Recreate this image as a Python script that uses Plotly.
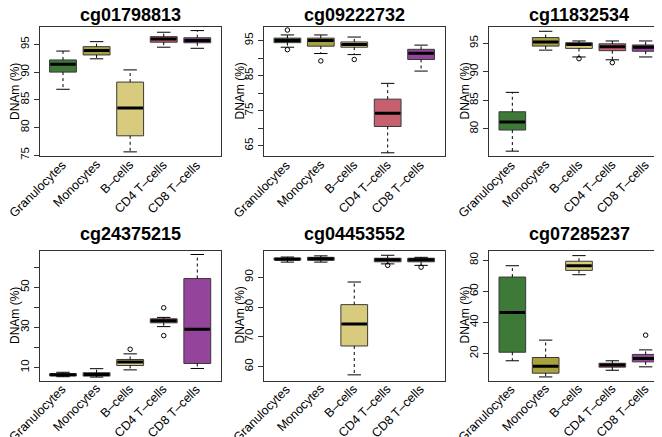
import plotly.graph_objects as go

# ---------------- data ----------------
cell_types = ["Granulocytes", "Monocytes", "B\u2013cells", "CD4 T\u2013cells", "CD8 T\u2013cells"]
box_colors = ["#3D7A37", "#A7A23C", "#D9CB7D", "#C5606F", "#95449B"]

probes = ["cg01798813", "cg09222732", "cg11832534", "cg24375215", "cg04453552", "cg07285237"]

# per probe: lower whisker, Q1, median, Q3, upper whisker (DNAm %), in cell_types order
cg01798813_lower = [86.9, 92.4, 75.6, 94.5, 94.3]
cg01798813_q1 = [90.0, 93.1, 78.5, 95.4, 95.3]
cg01798813_med = [91.4, 93.9, 83.5, 96.0, 95.7]
cg01798813_q3 = [92.2, 94.6, 88.2, 96.4, 96.2]
cg01798813_upper = [93.8, 95.5, 90.4, 97.2, 97.5]
cg01798813_out = [[], [], [], [], []]

cg09222732_lower = [93.1, 91.3, 91.0, 63.0, 86.3]
cg09222732_q1 = [94.4, 93.4, 93.1, 70.5, 89.6]
cg09222732_med = [95.0, 95.0, 93.9, 74.3, 91.4]
cg09222732_q3 = [95.7, 95.7, 94.6, 78.3, 92.5]
cg09222732_upper = [96.6, 96.6, 96.0, 82.8, 93.7]
cg09222732_out = [[98.0, 92.4], [89.2], [89.6], [], []]

cg11832534_lower = [76.1, 93.8, 92.6, 92.1, 92.6]
cg11832534_q1 = [79.8, 94.5, 94.1, 93.7, 93.6]
cg11832534_med = [81.2, 95.2, 94.8, 94.4, 94.3]
cg11832534_q3 = [83.0, 96.0, 95.1, 94.9, 94.7]
cg11832534_upper = [86.4, 97.1, 95.4, 95.4, 95.4]
cg11832534_out = [[], [], [92.3], [91.6], []]

cg24375215_lower = [5.4, 5.2, 8.8, 30.4, 9.5]
cg24375215_q1 = [5.8, 5.7, 11.0, 32.3, 12.0]
cg24375215_med = [6.4, 6.5, 12.7, 33.3, 29.1]
cg24375215_q3 = [6.9, 7.4, 14.0, 34.3, 54.4]
cg24375215_upper = [7.6, 9.4, 16.8, 35.0, 66.4]
cg24375215_out = [[], [], [19.1], [39.8, 25.9], []]

cg04453552_lower = [95.1, 95.1, 57.2, 94.5, 94.0]
cg04453552_q1 = [95.8, 95.7, 66.9, 95.2, 95.2]
cg04453552_med = [96.1, 96.2, 74.3, 95.9, 95.9]
cg04453552_q3 = [96.5, 96.7, 80.8, 96.4, 96.4]
cg04453552_upper = [96.8, 97.2, 88.4, 97.4, 96.7]
cg04453552_out = [[], [], [], [94.0], [93.4]]

cg07285237_lower = [15.3, 4.9, 70.7, 9.2, 11.4]
cg07285237_q1 = [20.8, 7.3, 73.5, 11.2, 14.6]
cg07285237_med = [46.4, 11.8, 76.5, 12.5, 16.8]
cg07285237_q3 = [69.2, 17.4, 79.4, 13.7, 19.4]
cg07285237_upper = [76.5, 28.6, 83.0, 15.3, 22.3]
cg07285237_out = [[], [], [], [], [31.8]]

# y-axis ticks (value, label) per probe
ytick_vals = [[75, 80, 85, 90, 95], [65, 70, 75, 80, 85, 90, 95], [80, 85, 90, 95],
              [10, 20, 30, 40, 50, 60], [60, 70, 80, 90], [20, 40, 60, 80]]
ytick_text = [["75", "80", "85", "90", "95"], ["65", "", "75", "", "85", "", "95"],
              ["80", "85", "90", "95"], ["10", "", "30", "", "50", ""],
              ["60", "70", "80", "90"], ["20", "40", "60", "80"]]
y_ranges = [[74.8, 98.2], [62.0, 98.95], [75.2, 97.9], [3.5, 68.4], [55.3, 99.0], [2.6, 86.3]]

stats = {
    "cg01798813": (cg01798813_lower, cg01798813_q1, cg01798813_med, cg01798813_q3, cg01798813_upper, cg01798813_out),
    "cg09222732": (cg09222732_lower, cg09222732_q1, cg09222732_med, cg09222732_q3, cg09222732_upper, cg09222732_out),
    "cg11832534": (cg11832534_lower, cg11832534_q1, cg11832534_med, cg11832534_q3, cg11832534_upper, cg11832534_out),
    "cg24375215": (cg24375215_lower, cg24375215_q1, cg24375215_med, cg24375215_q3, cg24375215_upper, cg24375215_out),
    "cg04453552": (cg04453552_lower, cg04453552_q1, cg04453552_med, cg04453552_q3, cg04453552_upper, cg04453552_out),
    "cg07285237": (cg07285237_lower, cg07285237_q1, cg07285237_med, cg07285237_q3, cg07285237_upper, cg07285237_out),
}

# ---------------- layout geometry (pixels) ----------------
W, H = 662, 437
col_px = [(31.5, 212.8), (256.0, 436.5), (481.0, 661.0)]
row_px = [(18.7, 148.3), (242.5, 372.5)]
FONT = "Liberation Sans, Arial, Helvetica, sans-serif"
BOX_W = 0.8
CAP_W = 0.4

fig = go.Figure()
layout = dict(width=W, height=H, margin=dict(l=0, r=0, t=0, b=0),
              paper_bgcolor="white", plot_bgcolor="white", showlegend=False,
              boxmode="overlay", font=dict(family=FONT, color="black"))
annotations = []

positions = list(range(1, len(cell_types) + 1))

for k, probe in enumerate(probes):
    r, c = divmod(k, 3)
    ax = "" if k == 0 else str(k + 1)
    xa, ya = "x" + ax, "y" + ax
    lo, q1, med, q3, up, outl = stats[probe]

    # dashed whiskers
    wx, wy = [], []
    for p, a, b, cc, d in zip(positions, lo, q1, q3, up):
        wx += [p, p, None, p, p, None]
        wy += [cc, d, None, b, a, None]
    fig.add_trace(go.Scatter(x=wx, y=wy, mode="lines", xaxis=xa, yaxis=ya,
                             line=dict(color="black", width=1, dash="3px,3px"),
                             hoverinfo="skip"))
    # boxes
    for i, p in enumerate(positions):
        fig.add_trace(go.Box(x=[p], q1=[q1[i]], median=[med[i]], q3=[q3[i]],
                             lowerfence=[q1[i]], upperfence=[q3[i]],
                             width=BOX_W, fillcolor=box_colors[i], whiskerwidth=0,
                             line=dict(color="#3a3a3a", width=1), boxpoints=False,
                             xaxis=xa, yaxis=ya, hoverinfo="skip"))
    # medians
    mx, my = [], []
    for p, m in zip(positions, med):
        mx += [p - BOX_W / 2 + 0.02, p + BOX_W / 2 - 0.02, None]
        my += [m, m, None]
    fig.add_trace(go.Scatter(x=mx, y=my, mode="lines", xaxis=xa, yaxis=ya,
                             line=dict(color="black", width=3), hoverinfo="skip"))
    # caps
    cx, cy = [], []
    for p, a, d in zip(positions, lo, up):
        cx += [p - CAP_W / 2, p + CAP_W / 2, None, p - CAP_W / 2, p + CAP_W / 2, None]
        cy += [d, d, None, a, a, None]
    fig.add_trace(go.Scatter(x=cx, y=cy, mode="lines", xaxis=xa, yaxis=ya,
                             line=dict(color="black", width=1), hoverinfo="skip"))
    # outliers
    ox, oy = [], []
    for p, pts in zip(positions, outl):
        for v in pts:
            ox.append(p)
            oy.append(v)
    if ox:
        fig.add_trace(go.Scatter(x=ox, y=oy, mode="markers", xaxis=xa, yaxis=ya,
                                 marker=dict(symbol="circle-open", size=4.5, color="black",
                                             line=dict(width=1)),
                                 hoverinfo="skip"))

    x0, x1 = col_px[c]
    y0, y1 = row_px[r]
    xdom = [x0 / W, x1 / W]
    ydom = [1 - y1 / H, 1 - y0 / H]
    layout["xaxis" + ax] = dict(domain=xdom, anchor=ya, range=[0.3, 5.7],
                                tickmode="array", tickvals=positions, ticktext=[""] * 5,
                                ticks="", showgrid=False, zeroline=False,
                                showline=True, mirror=True, linecolor="#333", linewidth=1,
                                automargin=False, fixedrange=True)
    layout["yaxis" + ax] = dict(domain=ydom, anchor=xa, range=y_ranges[k],
                                tickmode="array", tickvals=ytick_vals[k], ticktext=ytick_text[k],
                                tickangle=-90, ticks="outside", ticklen=5, tickcolor="#333",
                                showgrid=False, zeroline=False,
                                showline=True, mirror=True, linecolor="#333", linewidth=1,
                                tickfont=dict(size=11.5, family=FONT, color="black"),
                                automargin=False, fixedrange=True)
    # rotated category labels under the panel
    for p, lab in zip(positions, cell_types):
        annotations.append(dict(text=lab, x=p, xref=xa, y=1 - y1 / H, yref="paper",
                                xanchor="right", yanchor="top", textangle=-45,
                                xshift=9, yshift=1, showarrow=False,
                                font=dict(size=12.5, family=FONT, color="black")))
    # y axis title
    annotations.append(dict(text="DNAm (%)", x=(x0 - 25) / W, y=1 - (y0 + y1) / 2 / H,
                            xref="paper", yref="paper", xanchor="center", yanchor="middle",
                            textangle=-90, showarrow=False,
                            font=dict(size=12, family=FONT, color="black")))
    # panel title
    title_y = [6.8, 226.0][r]
    annotations.append(dict(text="<b>" + probe + "</b>", x=(x0 + x1) / 2 / W,
                            y=1 - title_y / H, xref="paper", yref="paper",
                            xanchor="center", yanchor="middle", showarrow=False,
                            font=dict(size=18, family=FONT, color="black")))

layout["annotations"] = annotations
fig.update_layout(**layout)
fig.write_html("out.html")
